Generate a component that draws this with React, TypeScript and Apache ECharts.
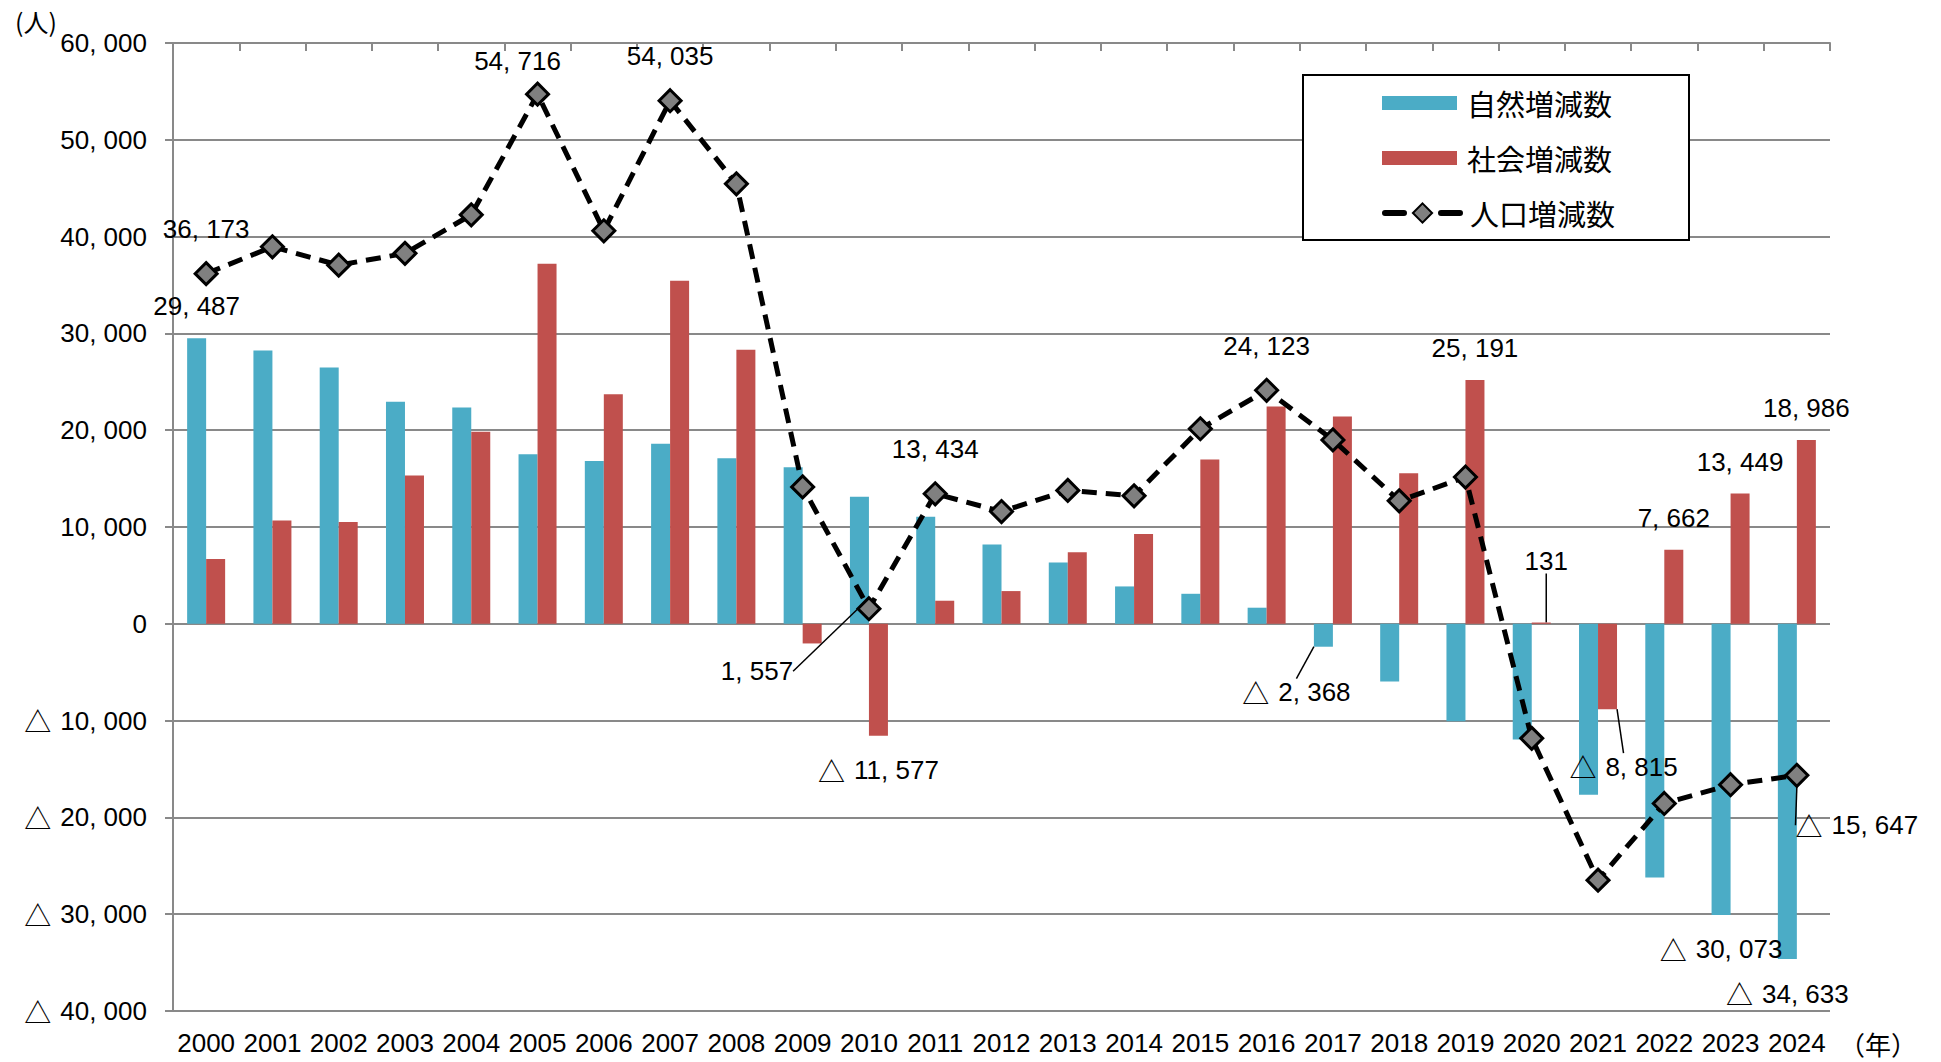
import React, { useEffect, useRef } from 'react';
import * as echarts from 'echarts';

// ---- data ----
const years = ['2000', '2001', '2002', '2003', '2004', '2005', '2006', '2007', '2008', '2009', '2010', '2011', '2012', '2013', '2014', '2015', '2016', '2017', '2018', '2019', '2020', '2021', '2022', '2023', '2024'];
const naturalChange = [29487, 28240, 26480, 22930, 22340, 17520, 16830, 18590, 17100, 16170, 13134, 11050, 8200, 6340, 3860, 3100, 1663, -2368, -5960, -10070, -11960, -17670, -26220, -30073, -34633];
const socialChange = [6686, 10660, 10520, 15310, 19830, 37196, 23720, 35445, 28310, -2030, -11577, 2384, 3380, 7380, 9280, 16970, 22460, 21410, 15550, 25191, 131, -8815, 7662, 13449, 18986];
const totalChange = [36173, 38950, 37050, 38270, 42250, 54716, 40600, 54035, 45450, 14140, 1557, 13434, 11600, 13780, 13220, 20150, 24123, 19000, 12700, 15160, -11830, -26485, -18558, -16624, -15647];
const seriesNames = ['自然増減数', '社会増減数', '人口増減数'];
const unitY = '(人)';
const unitX = '（年）';
const yMin = -40000;
const yMax = 60000;
const yStep = 10000;
// indices of the points that carry a value label
const naturalLabelled = [0, 17, 23, 24];
const socialLabelled = [10, 19, 20, 21, 22, 23, 24];
const totalLabelled = [0, 5, 7, 10, 11, 16, 24];

// ---- style ----
const NUM_FONT = "'Liberation Sans', 'Noto Sans CJK JP', sans-serif";
const CJK_FONT = "'Noto Sans CJK JP', sans-serif";
const NUM_SIZE = 26;
const BLUE = '#4BACC6';
const RED = '#C0504D';
const GRID = '#898989';
const naturalMoves: Record<number, number[]> = { 17: [-27, 11] };
const socialMoves: Record<number, number[]> = { 20: [5, -30], 21: [16, 23] };
const totalMoves: Record<number, number[]> = { 5: [-20, 11], 10: [-112, 107], 24: [60, 95] };
const totalLeaders = [10, 24];
const naturalLeaders = [17];
const socialLeaders = [20, 21];

const group3 = (n: number) => String(n).replace(/\B(?=(\d{3})+(?!\d))/g, ', ');
const fmt = (v: number) => (v < 0 ? '{t|△}' + group3(-v) : group3(v));
const rich = { t: { fontFamily: CJK_FONT, fontSize: 27, color: '#000', padding: [0, 9, 0, 0] } };

const labelText = { fontFamily: NUM_FONT, fontSize: NUM_SIZE, color: '#000' };

function barItems(values: number[], labelled: number[], leaders: number[]) {
  return values.map((v, i) => {
    if (!labelled.includes(i)) return v;
    return {
      value: v,
      label: { show: true, position: v >= 0 ? 'top' : 'bottom', distance: v >= 0 ? 19 : 21 },
      labelLine: leaders.includes(i) ? { show: true, lineStyle: { color: '#000', width: 1.5 } } : { show: false },
    };
  });
}

function lineItems(values: number[], labelled: number[], leaders: number[]) {
  return values.map((v, i) => {
    if (!labelled.includes(i)) return v;
    return {
      value: v,
      label: { show: true },
      labelLine: leaders.includes(i) ? { show: true, lineStyle: { color: '#000', width: 1.5 } } : { show: false },
    };
  });
}

const mover = (moves: Record<number, number[]>) => (p: any) => {
  const m = moves[p.dataIndex];
  return m ? { dx: m[0], dy: m[1] } : {};
};

export default function App() {
  const ref = useRef<HTMLDivElement>(null);
  useEffect(() => {
    document.body.style.margin = '0';
    const chart = echarts.init(ref.current!, null, { renderer: 'svg' });
    const valueLabel = { ...labelText, rich, formatter: (p: any) => fmt(p.value) };
    const legendText = { fontFamily: CJK_FONT, fontSize: 29, color: '#000', lineHeight: 30, padding: [0, 0, 0, 5] };
    chart.setOption({
      animation: false,
      backgroundColor: '#fff',
      grid: { left: 173, right: 111, top: 43, bottom: 51, containLabel: false },
      legend: [
        {
          data: [
            { name: seriesNames[0], icon: 'rect' },
            { name: seriesNames[1], icon: 'rect' },
          ],
          orient: 'vertical',
          left: 1303,
          top: 75,
          itemWidth: 75,
          itemHeight: 14,
          itemGap: 25,
          padding: [13, 77, 67, 79],
          borderColor: '#000',
          borderWidth: 2,
          backgroundColor: '#fff',
          selectedMode: false,
          textStyle: legendText,
          z: 4,
        },
        {
          data: [{ name: seriesNames[2] }],
          orient: 'vertical',
          left: 1382,
          top: 198,
          itemWidth: 75,
          itemHeight: 24,
          padding: 0,
          selectedMode: false,
          lineStyle: { width: 6, type: [19, 37], cap: 'round' },
          textStyle: legendText,
          z: 5,
        },
      ],
      xAxis: [
        {
          type: 'category',
          data: years,
          position: 'bottom',
          axisLine: { show: false },
          axisTick: { show: false },
          axisLabel: { ...labelText, margin: 19, interval: 0 },
        },
        {
          type: 'category',
          data: years,
          position: 'top',
          axisLine: { show: true, onZero: true, lineStyle: { color: GRID, width: 2 } },
          axisTick: { show: true, inside: true, length: 8, lineStyle: { color: GRID, width: 2 } },
          axisLabel: { show: false },
        },
      ],
      yAxis: {
        type: 'value',
        min: yMin,
        max: yMax,
        interval: yStep,
        axisLine: { show: true, lineStyle: { color: GRID, width: 2 } },
        axisTick: { show: true, length: 8, lineStyle: { color: GRID, width: 2 } },
        splitLine: { show: true, lineStyle: { color: GRID, width: 2 } },
        axisLabel: { ...labelText, rich, margin: 26, formatter: (v: number) => fmt(v) },
      },
      graphic: [
        {
          type: 'text',
          x: 36,
          y: 21,
          style: { text: unitY, fontFamily: CJK_FONT, fontSize: 25, fill: '#000', align: 'center', verticalAlign: 'middle', textAlign: 'center', textVerticalAlign: 'middle' },
        },
        {
          type: 'text',
          x: 1878,
          y: 1043,
          style: { text: unitX, fontFamily: CJK_FONT, fontSize: 26, fill: '#000', align: 'center', verticalAlign: 'middle', textAlign: 'center', textVerticalAlign: 'middle' },
        },
      ],
      series: [
        {
          name: seriesNames[0],
          type: 'bar',
          xAxisIndex: 0,
          barWidth: 19,
          barGap: '0%',
          itemStyle: { color: BLUE },
          label: { show: false, ...valueLabel },
          labelLayout: mover(naturalMoves),
          data: barItems(naturalChange, naturalLabelled, naturalLeaders),
          z: 2,
        },
        {
          name: seriesNames[1],
          type: 'bar',
          xAxisIndex: 0,
          barWidth: 19,
          barGap: '0%',
          itemStyle: { color: RED },
          label: { show: false, ...valueLabel },
          labelLayout: mover(socialMoves),
          data: barItems(socialChange, socialLabelled, socialLeaders),
          z: 2,
        },
        {
          name: seriesNames[2],
          type: 'line',
          xAxisIndex: 0,
          symbol: 'diamond',
          symbolSize: 22,
          itemStyle: { color: '#808080', borderColor: '#000', borderWidth: 3 },
          lineStyle: { color: '#000', width: 5, type: [15, 9] },
          label: { show: false, position: 'top', distance: 19, ...valueLabel },
          labelLayout: mover(totalMoves),
          data: lineItems(totalChange, totalLabelled, totalLeaders),
          z: 5,
        },
      ],
    });
    return () => chart.dispose();
  }, []);
  return <div ref={ref} style={{ width: 1941, height: 1062 }} />;
}
